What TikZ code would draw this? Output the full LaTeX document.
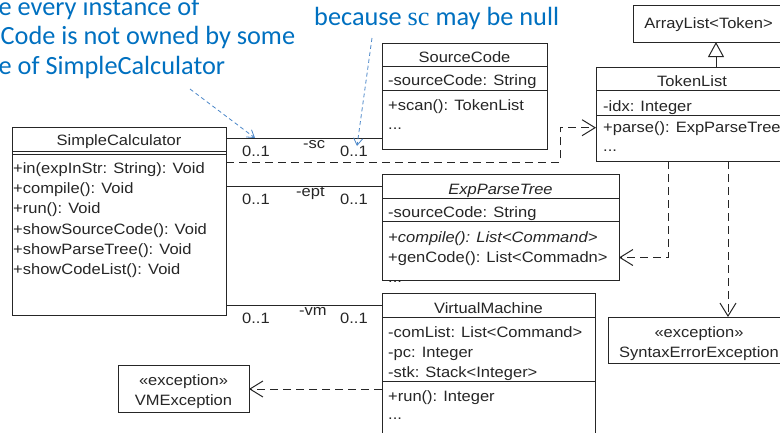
\documentclass[tikz,border=0pt]{standalone}
\usepackage{fontspec}
\usetikzlibrary{arrows.meta}

% UML text and note fonts
\newfontfamily\umlfamily[FakeStretch=1.1]{Liberation Sans}
\newfontfamily\notefamily{Carlito}
\newfontfamily\noteserif{Liberation Serif}

\definecolor{ink}{HTML}{262626}
\definecolor{notec}{RGB}{0,112,192}
\definecolor{notearrow}{HTML}{4A86C8}

\tikzset{
  cls/.style={draw=ink, line width=1pt, fill=white, inner sep=0pt, outer sep=0pt, anchor=north west},
  sepline/.style={draw=ink, line width=1pt},
  uml/.style={font=\umlfamily\fontsize{15}{18}\selectfont, text=ink, inner sep=0pt},
  umlit/.style={uml, font=\umlfamily\itshape\fontsize{15}{18}\selectfont},
  assoc/.style={draw=ink, line width=1pt},
  depend/.style={draw=ink, line width=1pt, dash pattern=on 8pt off 5pt,
    -{Straight Barb[length=13pt,width=16pt,line width=1pt]}},
  inherit/.style={draw=ink, line width=1pt,
    -{Triangle[open,length=15pt,width=16pt,line width=1pt,fill=white]}},
  note/.style={font=\notefamily\fontsize{26.3}{30}\selectfont, text=notec, inner sep=0pt},
  notearr/.style={draw=notearrow, line width=0.8pt, dash pattern=on 4pt off 3pt,
    -{Straight Barb[length=7pt,width=9pt,line width=0.8pt]}}
}

\begin{document}
\begin{tikzpicture}[x=1pt,y=-1pt]
\useasboundingbox (0,0) rectangle (780,432);
\clip (0,0) rectangle (780,432);

% ---------- class boxes ----------
\node[cls, minimum width=214pt, minimum height=188pt] (calc) at (12,127) {};
\node[cls, minimum width=165pt, minimum height=106pt] (src) at (382,43) {};
\node[cls, minimum width=192pt, minimum height=94pt] (tl) at (596,67) {};
\node[cls, minimum width=152pt, minimum height=37pt] (al) at (633,5) {};
\node[cls, minimum width=237pt, minimum height=105.7pt] (ept) at (382,174.3) {};
\node[cls, minimum width=213pt, minimum height=160pt] (vm) at (382,293.3) {};
\node[cls, minimum width=131pt, minimum height=47pt] (vme) at (118,365) {};
\node[cls, minimum width=182pt, minimum height=46.3pt] (see) at (608,317) {};

% ---------- compartment separators ----------
\draw[sepline] (calc.west |- 0,151) -- (calc.east |- 0,151);
\draw[sepline] (calc.west |- 0,154) -- (calc.east |- 0,154);
\draw[sepline] (src.west |- 0,66.7) -- (src.east |- 0,66.7);
\draw[sepline] (src.west |- 0,90) -- (src.east |- 0,90);
\draw[sepline] (tl.west |- 0,90) -- (tl.east |- 0,90);
\draw[sepline] (tl.west |- 0,115) -- (tl.east |- 0,115);
\draw[sepline] (ept.west |- 0,198.3) -- (ept.east |- 0,198.3);
\draw[sepline] (ept.west |- 0,221.7) -- (ept.east |- 0,221.7);
\draw[sepline] (vm.west |- 0,317.7) -- (vm.east |- 0,317.7);
\draw[sepline] (vm.west |- 0,381.7) -- (vm.east |- 0,381.7);

% ---------- SimpleCalculator ----------
\node[uml, anchor=base] (calc-name) at (119,145) {SimpleCalculator};
\node[uml, anchor=base west] (calc-m1) at (13,173.5) {+in(expInStr: String): Void};
\node[uml, anchor=base west] (calc-m2) at (13,193.7) {+compile(): Void};
\node[uml, anchor=base west] (calc-m3) at (13,213.9) {+run(): Void};
\node[uml, anchor=base west] (calc-m4) at (13,234.1) {+showSourceCode(): Void};
\node[uml, anchor=base west] (calc-m5) at (13,254.3) {+showParseTree(): Void};
\node[uml, anchor=base west] (calc-m6) at (13,274.5) {+showCodeList(): Void};

% ---------- SourceCode ----------
\node[uml, anchor=base] (src-name) at (464.5,62) {SourceCode};
\node[uml, anchor=base west] (src-a1) at (388,85.5) {-sourceCode: String};
\node[uml, anchor=base west] (src-m1) at (388,110) {+scan(): TokenList};
\node[uml, anchor=base west] (src-m2) at (388,129) {...};

% ---------- TokenList / ArrayList ----------
\node[uml, anchor=base] (al-name) at (708.5,28) {ArrayList<Token>};
\node[uml, anchor=base] (tl-name) at (692,86.5) {TokenList};
\node[uml, anchor=base west] (tl-a1) at (603,111) {-idx: Integer};
\node[uml, anchor=base west] (tl-m1) at (603,132.5) {+parse(): ExpParseTree};
\node[uml, anchor=base west] (tl-m2) at (603,151) {...};

% ---------- ExpParseTree ----------
\node[umlit, anchor=base] (ept-name) at (500.5,194.5) {ExpParseTree};
\node[uml, anchor=base west] (ept-a1) at (388,217) {-sourceCode: String};
\node[umlit, anchor=base west] (ept-m1) at (388,242) {+compile(): List<Command>};
\node[uml, anchor=base west] (ept-m2) at (388,262) {+genCode(): List<Commadn>};
\node[uml, anchor=base west] (ept-m3) at (388,282) {...};

% ---------- VirtualMachine ----------
\node[uml, anchor=base] (vm-name) at (488.5,313.3) {VirtualMachine};
\node[uml, anchor=base west] (vm-a1) at (388,337) {-comList: List<Command>};
\node[uml, anchor=base west] (vm-a2) at (388,357) {-pc: Integer};
\node[uml, anchor=base west] (vm-a3) at (388,377) {-stk: Stack<Integer>};
\node[uml, anchor=base west] (vm-m1) at (388,401) {+run(): Integer};
\node[uml, anchor=base west] (vm-m2) at (388,419.5) {...};

% ---------- exceptions ----------
\node[uml, anchor=base] (vme-st) at (183.5,385) {«exception»};
\node[uml, anchor=base] (vme-name) at (183.5,405) {VMException};
\node[uml, anchor=base] (see-st) at (699,337) {«exception»};
\node[uml, anchor=base] (see-name) at (699,357) {SyntaxErrorException};

% ---------- associations ----------
\coordinate (ysc) at (0,138.3);
\coordinate (yept) at (0,186);
\coordinate (yvm) at (0,305);
\draw[assoc] (calc.east |- ysc) -- (src.west |- ysc);
\draw[assoc] (calc.east |- yept) -- (ept.west |- yept);
\draw[assoc] (calc.east |- yvm) -- (vm.west |- yvm);

\node[uml, anchor=base west] (sc-m1) at (242,156) {0..1};
\node[uml, anchor=base west] (sc-role) at (303,148) {-sc};
\node[uml, anchor=base west] (sc-m2) at (340,156) {0..1};
\node[uml, anchor=base west] (ept-mult1) at (242,204) {0..1};
\node[uml, anchor=base west] (ept-role) at (296,196.5) {-ept};
\node[uml, anchor=base west] (ept-mult2) at (340,204) {0..1};
\node[uml, anchor=base west] (vm-mult1) at (242,323) {0..1};
\node[uml, anchor=base west] (vm-role) at (299,315) {-vm};
\node[uml, anchor=base west] (vm-mult2) at (340,323) {0..1};

% ---------- dependencies ----------
\coordinate (k1) at (560,162.3);
\coordinate (k2) at (560,127.7);
\draw[depend] (calc.east |- k1) -- (k1) -- (k2) -- (tl.west |- k2);

\coordinate (t1) at (668,257.5);
\draw[depend] (tl.south -| t1) -- (t1) -- (ept.east |- t1);

\coordinate (t2) at (728,0);
\draw[depend] (tl.south -| t2) -- (see.north -| t2);

\coordinate (v1) at (0,389);
\draw[depend] (vm.west |- v1) -- (vme.east |- v1);

% ---------- generalization ----------
\coordinate (g) at (716,0);
\draw[inherit] (tl.north -| g) -- (al.south -| g);

% ---------- notes ----------
\node[note, anchor=base west] (note1a) at (-1.5,15) {e every instance of};
\node[note, anchor=base west] (note1b) at (0.5,44.5) {Code is not owned by some};
\node[note, anchor=base west] (note1c) at (-1.5,74) {e of SimpleCalculator};
\node[note, anchor=base west] (note2) at (314,25) {because {\noteserif sc} may be null};

\coordinate (n1) at (190,89);
\coordinate (n1t) at (255,138);
\draw[notearr] (n1) -- (n1t);
\coordinate (n2) at (372,38);
\coordinate (n2t) at (357,146);
\draw[notearr] (n2) -- (n2t);
\end{tikzpicture}
\end{document}
